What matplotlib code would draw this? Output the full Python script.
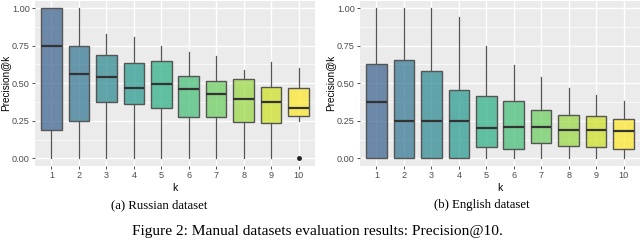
"""
Precision@k boxplots for the two manual datasets (ggplot-like look)
"""
import matplotlib
matplotlib.use("Agg")
import matplotlib.pyplot as plt
import numpy as np

ks = [1, 2, 3, 4, 5, 6, 7, 8, 9, 10]

# russian dataset, box stats
ru_q1 = [0.186, 0.248, 0.376, 0.36, 0.336, 0.279, 0.279, 0.241, 0.235, 0.285]
ru_med = [0.75, 0.56, 0.54, 0.469, 0.498, 0.46, 0.429, 0.394, 0.374, 0.338]
ru_q3 = [1.0, 0.75, 0.688, 0.637, 0.648, 0.546, 0.515, 0.527, 0.478, 0.467]
ru_lo = [0.0, 0.0, 0.0, 0.0, 0.0, 0.0, 0.0, 0.0, 0.0, 0.25]
ru_hi = [1.0, 1.0, 0.83, 0.807, 0.75, 0.708, 0.679, 0.588, 0.64, 0.6]
ru_out = [[], [], [], [], [], [], [], [], [], [0.0]]

# english dataset
en_q1 = [0.0, 0.0, 0.0, 0.0, 0.075, 0.06, 0.10, 0.083, 0.075, 0.065]
en_med = [0.375, 0.25, 0.25, 0.25, 0.20, 0.21, 0.21, 0.19, 0.19, 0.185]
en_q3 = [0.625, 0.653, 0.58, 0.455, 0.415, 0.38, 0.32, 0.29, 0.28, 0.26]
en_lo = [0.0, 0.0, 0.0, 0.0, 0.0, 0.0, 0.0, 0.0, 0.0, 0.0]
en_hi = [1.0, 1.0, 1.0, 0.94, 0.75, 0.62, 0.54, 0.47, 0.42, 0.38]
en_out = [[], [], [], [], [], [], [], [], [], []]

y_ticks = [0.0, 0.25, 0.5, 0.75, 1.0]
y_tick_labels = ["0.00", "0.25", "0.50", "0.75", "1.00"]

plt.rcParams["font.family"] = ["Liberation Sans", "DejaVu Sans"]


def draw_panel(ax, q1, med, q3, lo, hi, out, ylab_x):
    """ggplot style boxplot on one axes"""
    stats = []
    for i in range(len(ks)):
        stats.append(dict(q1=q1[i], med=med[i], q3=q3[i],
                          whislo=lo[i], whishi=hi[i], fliers=out[i]))

    ax.set_facecolor("#EBEBEB")
    ax.set_axisbelow(True)
    ax.set_yticks([0.125, 0.375, 0.625, 0.875], minor=True)
    ax.grid(which="major", color="white", lw=1.0)
    ax.grid(which="minor", axis="y", color="white", lw=0.5)

    bp = ax.bxp(stats, positions=ks, widths=0.75, patch_artist=True,
                showcaps=False,
                boxprops=dict(edgecolor="#555555", lw=1.0),
                whiskerprops=dict(color="#555555", lw=0.9),
                medianprops=dict(color="#333333", lw=1.6),
                flierprops=dict(marker="o", markerfacecolor="#222222",
                                markeredgecolor="#222222", markersize=2.5))
    cols = plt.cm.viridis(np.linspace(0.3, 1.0, len(ks)))
    for patch, c in zip(bp["boxes"], cols):
        patch.set_facecolor((c[0], c[1], c[2], 0.7))

    ax.set_xlim(0.4, 10.6)
    ax.set_ylim(-0.05, 1.05)
    ax.set_xticks(ks)
    ax.set_xticklabels([str(k) for k in ks])
    ax.set_yticks(y_ticks)
    ax.set_yticklabels(y_tick_labels)
    ax.tick_params(which="major", length=2.2, width=0.6, color="#333333",
                   labelsize=6.6, labelcolor="#4D4D4D", pad=1.5)
    ax.tick_params(which="minor", length=0)
    for s in ax.spines.values():
        s.set_visible(False)
    ax.set_xlabel("k", fontsize=7.5, labelpad=2)
    ax.set_ylabel("Precision@k", fontsize=7.2)
    ax.yaxis.set_label_coords(ylab_x, 0.5)


fig = plt.figure(figsize=(6.4, 2.46), dpi=100)
ax1 = fig.add_axes([35 / 640, 1 - 166 / 246, 280 / 640, 165.5 / 246])
ax2 = fig.add_axes([360 / 640, 1 - 166 / 246, 280 / 640, 165.5 / 246])

draw_panel(ax1, ru_q1, ru_med, ru_q3, ru_lo, ru_hi, ru_out, -0.087)
draw_panel(ax2, en_q1, en_med, en_q3, en_lo, en_hi, en_out, -0.089)

serif = ["Liberation Serif", "DejaVu Serif"]
fig.text(159 / 640, 1 - 205 / 246, "(a) Russian dataset", ha="center",
         va="center", fontsize=9.2, family=serif)
fig.text(482 / 640, 1 - 205 / 246, "(b) English dataset", ha="center",
         va="center", fontsize=9.2, family=serif)
fig.text(317 / 640, 1 - 232 / 246,
         "Figure 2: Manual datasets evaluation results: Precision@10.",
         ha="center", va="center", fontsize=11.1, family=serif)

fig.savefig("out.png", dpi=100)
